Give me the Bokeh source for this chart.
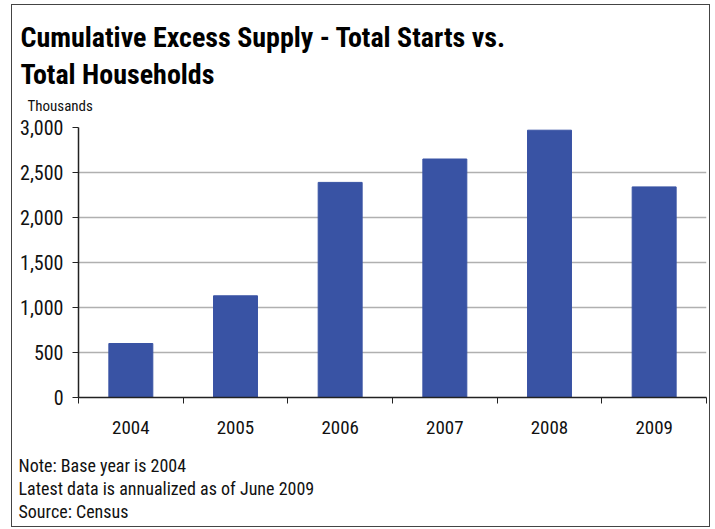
from bokeh.plotting import figure
from bokeh.models import Range1d, FixedTicker, NumeralTickFormatter, ColumnDataSource, Title
from bokeh.embed import file_html
from bokeh.resources import INLINE

years = ["2004", "2005", "2006", "2007", "2008", "2009"]
supply = [600, 1130, 2390, 2650, 2970, 2340]
y_ticks = [0, 500, 1000, 1500, 2000, 2500, 3000]
title_lines = ["Cumulative Excess Supply - Total Starts vs.", "Total Households"]
unit_label = "Thousands"
notes = ["Note: Base year is 2004", "Latest data is annualized as of June 2009", "Source: Census"]

FONT = "'Roboto Condensed', 'DejaVu Sans Condensed', sans-serif"
BAR = "#3953A4"
TXT = "#111111"

xs = [i + 0.5 for i in range(len(years))]
src = ColumnDataSource(dict(x=xs, top=supply))

p = figure(width=699, height=523,
           min_border_left=66, min_border_right=5, min_border_top=122, min_border_bottom=131,
           x_range=Range1d(0, len(years)), y_range=Range1d(0, 3000),
           output_backend="svg", toolbar_location=None,
           styles={"border": "1px solid #444", "margin-left": "11px", "margin-top": "4px"})
p.outline_line_color = None
p.title.visible = False

p.vbar(x="x", top="top", width=0.42, source=src, color=BAR)

p.xgrid.visible = False
p.ygrid.ticker = FixedTicker(ticks=y_ticks)
p.ygrid.grid_line_color = "#b0b0b0"
p.ygrid.grid_line_width = 1.5

xa = p.xaxis[0]
xa.ticker = FixedTicker(ticks=xs, minor_ticks=list(range(len(years) + 1)))
xa.major_label_overrides = {x: y for x, y in zip(xs, years)}
xa.major_tick_out = 0
xa.major_tick_in = 0
xa.minor_tick_out = 6
xa.minor_tick_in = 0
xa.minor_tick_line_color = "#222"
xa.axis_line_color = "#222"
xa.axis_line_width = 1.5
xa.major_label_standoff = 17
xa.major_label_text_font = FONT
xa.major_label_text_font_size = "19px"
xa.major_label_text_color = TXT

ya = p.yaxis[0]
ya.ticker = FixedTicker(ticks=y_ticks)
ya.formatter = NumeralTickFormatter(format="0,0")
ya.major_tick_out = 6
ya.major_tick_in = 0
ya.minor_tick_out = 0
ya.minor_tick_in = 0
ya.axis_line_color = "#222"
ya.axis_line_width = 1.5
ya.major_tick_line_color = "#222"
ya.major_label_standoff = 9
ya.major_label_text_font = FONT
ya.major_label_text_font_size = "20px"
ya.major_label_text_color = TXT

p.add_layout(Title(text=unit_label, align="left", offset=-51, standoff=25,
                   text_font=FONT, text_font_size="15px", text_font_style="normal",
                   text_color=TXT), "above")
p.add_layout(Title(text=title_lines[1], align="left", offset=-58, standoff=-16,
                   text_font=FONT, text_font_size="28px", text_font_style="bold",
                   text_color="#000"), "above")
p.add_layout(Title(text=title_lines[0], align="left", offset=-58, standoff=19,
                   text_font=FONT, text_font_size="28px", text_font_style="bold",
                   text_color="#000"), "above")

# small spacer between the axis labels and the notes
p.add_layout(Title(text=" ", standoff=13, text_font_size="1px", text_color="white"), "below")
for t in notes:
    p.add_layout(Title(text=t, align="left", offset=-60, standoff=0,
                       text_font=FONT, text_font_size="18px", text_font_style="normal",
                       text_color=TXT), "below")

open("out.html", "w").write(file_html(p, INLINE))
